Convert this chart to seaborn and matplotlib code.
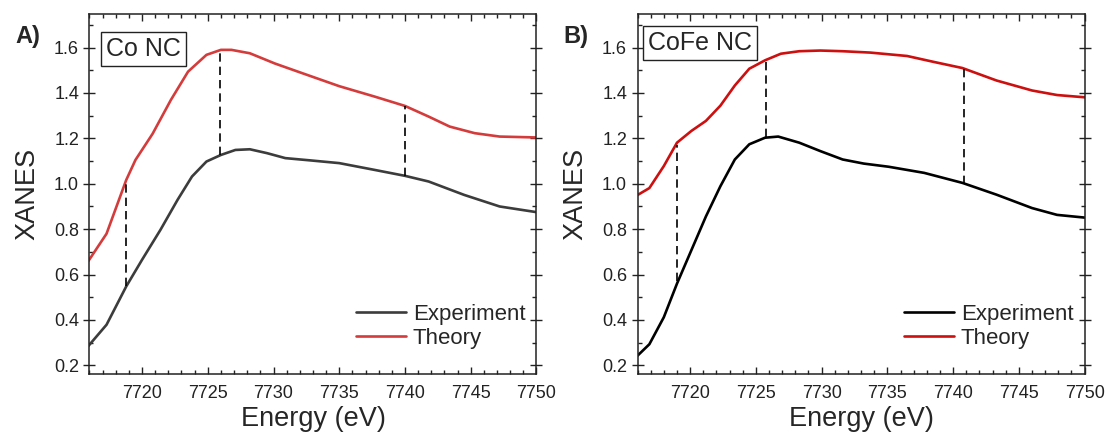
import matplotlib
matplotlib.use("Agg")
import matplotlib.pyplot as plt
import seaborn as sns
import pandas as pd
from matplotlib.ticker import MultipleLocator

# ---------------- data ----------------
# Panel A: Co NC
a_theory_e = [7715.9, 7717.3, 7718.8, 7719.5, 7720.8, 7722.2, 7723.5, 7724.9, 7726.0,
              7726.8, 7728.2, 7730.1, 7732.2, 7735.0, 7737.7, 7740.0, 7741.8, 7743.4,
              7745.3, 7747.2, 7750.0]
a_theory_v = [0.658, 0.78, 1.017, 1.105, 1.22, 1.37, 1.494, 1.568, 1.59,
              1.59, 1.575, 1.53, 1.487, 1.43, 1.384, 1.343, 1.296, 1.252,
              1.223, 1.208, 1.204]
a_exp_e = [7715.9, 7717.3, 7718.8, 7720.0, 7721.4, 7722.7, 7723.8, 7724.9, 7726.0,
           7727.1, 7728.2, 7729.5, 7730.9, 7732.8, 7735.0, 7737.7, 7740.0, 7741.8,
           7744.5, 7747.2, 7750.0]
a_exp_v = [0.284, 0.379, 0.548, 0.665, 0.797, 0.929, 1.032, 1.098, 1.127,
           1.149, 1.152, 1.135, 1.113, 1.103, 1.091, 1.061, 1.035, 1.01,
           0.951, 0.90, 0.875]
a_marks_x = [7718.8, 7725.9, 7740.0]
a_marks_lo = [0.548, 1.125, 1.035]
a_marks_hi = [1.017, 1.59, 1.343]

# Panel B: CoFe NC
b_theory_e = [7715.9, 7716.9, 7718.0, 7719.0, 7720.1, 7721.2, 7722.3, 7723.4, 7724.5,
              7725.7, 7726.9, 7728.3, 7729.9, 7731.6, 7733.7, 7736.5, 7738.6, 7740.7,
              7743.3, 7746.0, 7747.9, 7750.0]
b_theory_v = [0.947, 0.981, 1.078, 1.181, 1.233, 1.277, 1.344, 1.433, 1.507,
              1.544, 1.573, 1.584, 1.587, 1.584, 1.578, 1.563, 1.536, 1.51,
              1.455, 1.411, 1.391, 1.381]
b_exp_e = [7715.9, 7716.9, 7718.0, 7719.0, 7720.1, 7721.2, 7722.3, 7723.4, 7724.5,
           7725.7, 7726.7, 7728.3, 7729.9, 7731.6, 7733.2, 7735.1, 7737.8, 7740.7,
           7743.3, 7746.0, 7747.9, 7750.0]
b_exp_v = [0.237, 0.293, 0.412, 0.56, 0.708, 0.856, 0.989, 1.107, 1.174,
           1.203, 1.208, 1.181, 1.144, 1.107, 1.089, 1.075, 1.048, 1.004,
           0.952, 0.893, 0.863, 0.851]
b_marks_x = [7719.0, 7725.8, 7740.8]
b_marks_lo = [0.57, 1.207, 1.0]
b_marks_hi = [1.17, 1.55, 1.51]

series_names = ["Experiment", "Theory"]
panel_labels = ["A)", "B)"]
panel_titles = ["Co NC", "CoFe NC"]
x_ticks = [7720, 7725, 7730, 7735, 7740, 7745, 7750]
y_ticks = [0.2, 0.4, 0.6, 0.8, 1.0, 1.2, 1.4, 1.6]

# ---------------- style ----------------
sns.set_style("ticks")
plt.rcParams["font.family"] = ["Liberation Sans", "DejaVu Sans"]

fig = plt.figure(figsize=(11.07, 4.43), dpi=100)
axA = fig.add_axes([0.0808, 0.1558, 0.4038, 0.8126])
axB = fig.add_axes([0.5759, 0.1558, 0.4039, 0.8126])

panels = [
    (axA, a_exp_e, a_exp_v, a_theory_e, a_theory_v, a_marks_x, a_marks_lo, a_marks_hi,
     ["#3c3c3c", "#d43c3c"], 0.037, 0.883),
    (axB, b_exp_e, b_exp_v, b_theory_e, b_theory_v, b_marks_x, b_marks_lo, b_marks_hi,
     ["#000000", "#cc1010"], 0.0235, 0.90),
]

for i, (ax, ee, ev, te, tv, mx, mlo, mhi, cols, bx, by) in enumerate(panels):
    df = pd.concat([
        pd.DataFrame({"Energy": ee, "XANES": ev, "Series": series_names[0]}),
        pd.DataFrame({"Energy": te, "XANES": tv, "Series": series_names[1]}),
    ])
    sns.lineplot(data=df, x="Energy", y="XANES", hue="Series", sort=True,
                 palette=dict(zip(series_names, cols)), linewidth=1.9, ax=ax)
    ax.vlines(mx, mlo, mhi, colors="black", linestyles=(0, (5, 3)), linewidth=1.2)

    ax.set_xlim(7716, 7750)
    ax.set_ylim(0.162, 1.748)
    ax.set_xticks(x_ticks)
    ax.set_yticks(y_ticks)
    ax.set_yticklabels([f"{v:.1f}" for v in y_ticks])
    ax.xaxis.set_minor_locator(MultipleLocator(1))
    ax.yaxis.set_minor_locator(MultipleLocator(0.1))
    ax.tick_params(which="both", direction="in", top=True, right=True,
                   labelsize=13, colors="#222222", width=1.0)
    ax.tick_params(axis="x", which="major", length=5, pad=8)
    ax.tick_params(axis="y", which="major", direction="inout", length=9, pad=3)
    ax.tick_params(which="minor", length=3)
    for s in ax.spines.values():
        s.set_linewidth(1.1)
        s.set_color("#222222")
    ax.set_xlabel("Energy (eV)", fontsize=19.5, labelpad=3)
    ax.set_ylabel("XANES", fontsize=19.5, labelpad=9.5)

    ax.legend(loc="lower right", bbox_to_anchor=(0.995, 0.045), frameon=False,
              fontsize=16, handlelength=2.25, handletextpad=0.3, labelspacing=0.15,
              borderaxespad=0.0, borderpad=0.4)
    ax.text(bx, by, panel_titles[i], transform=ax.transAxes, fontsize=18,
            va="baseline", ha="left",
            bbox=dict(boxstyle="square,pad=0.2", facecolor="white",
                      edgecolor="#222222", linewidth=1.0))
    ax.text(-0.166, 0.919, panel_labels[i], transform=ax.transAxes, fontsize=17,
            fontweight="bold", va="baseline", ha="left")

fig.savefig("out.png", dpi=100)
